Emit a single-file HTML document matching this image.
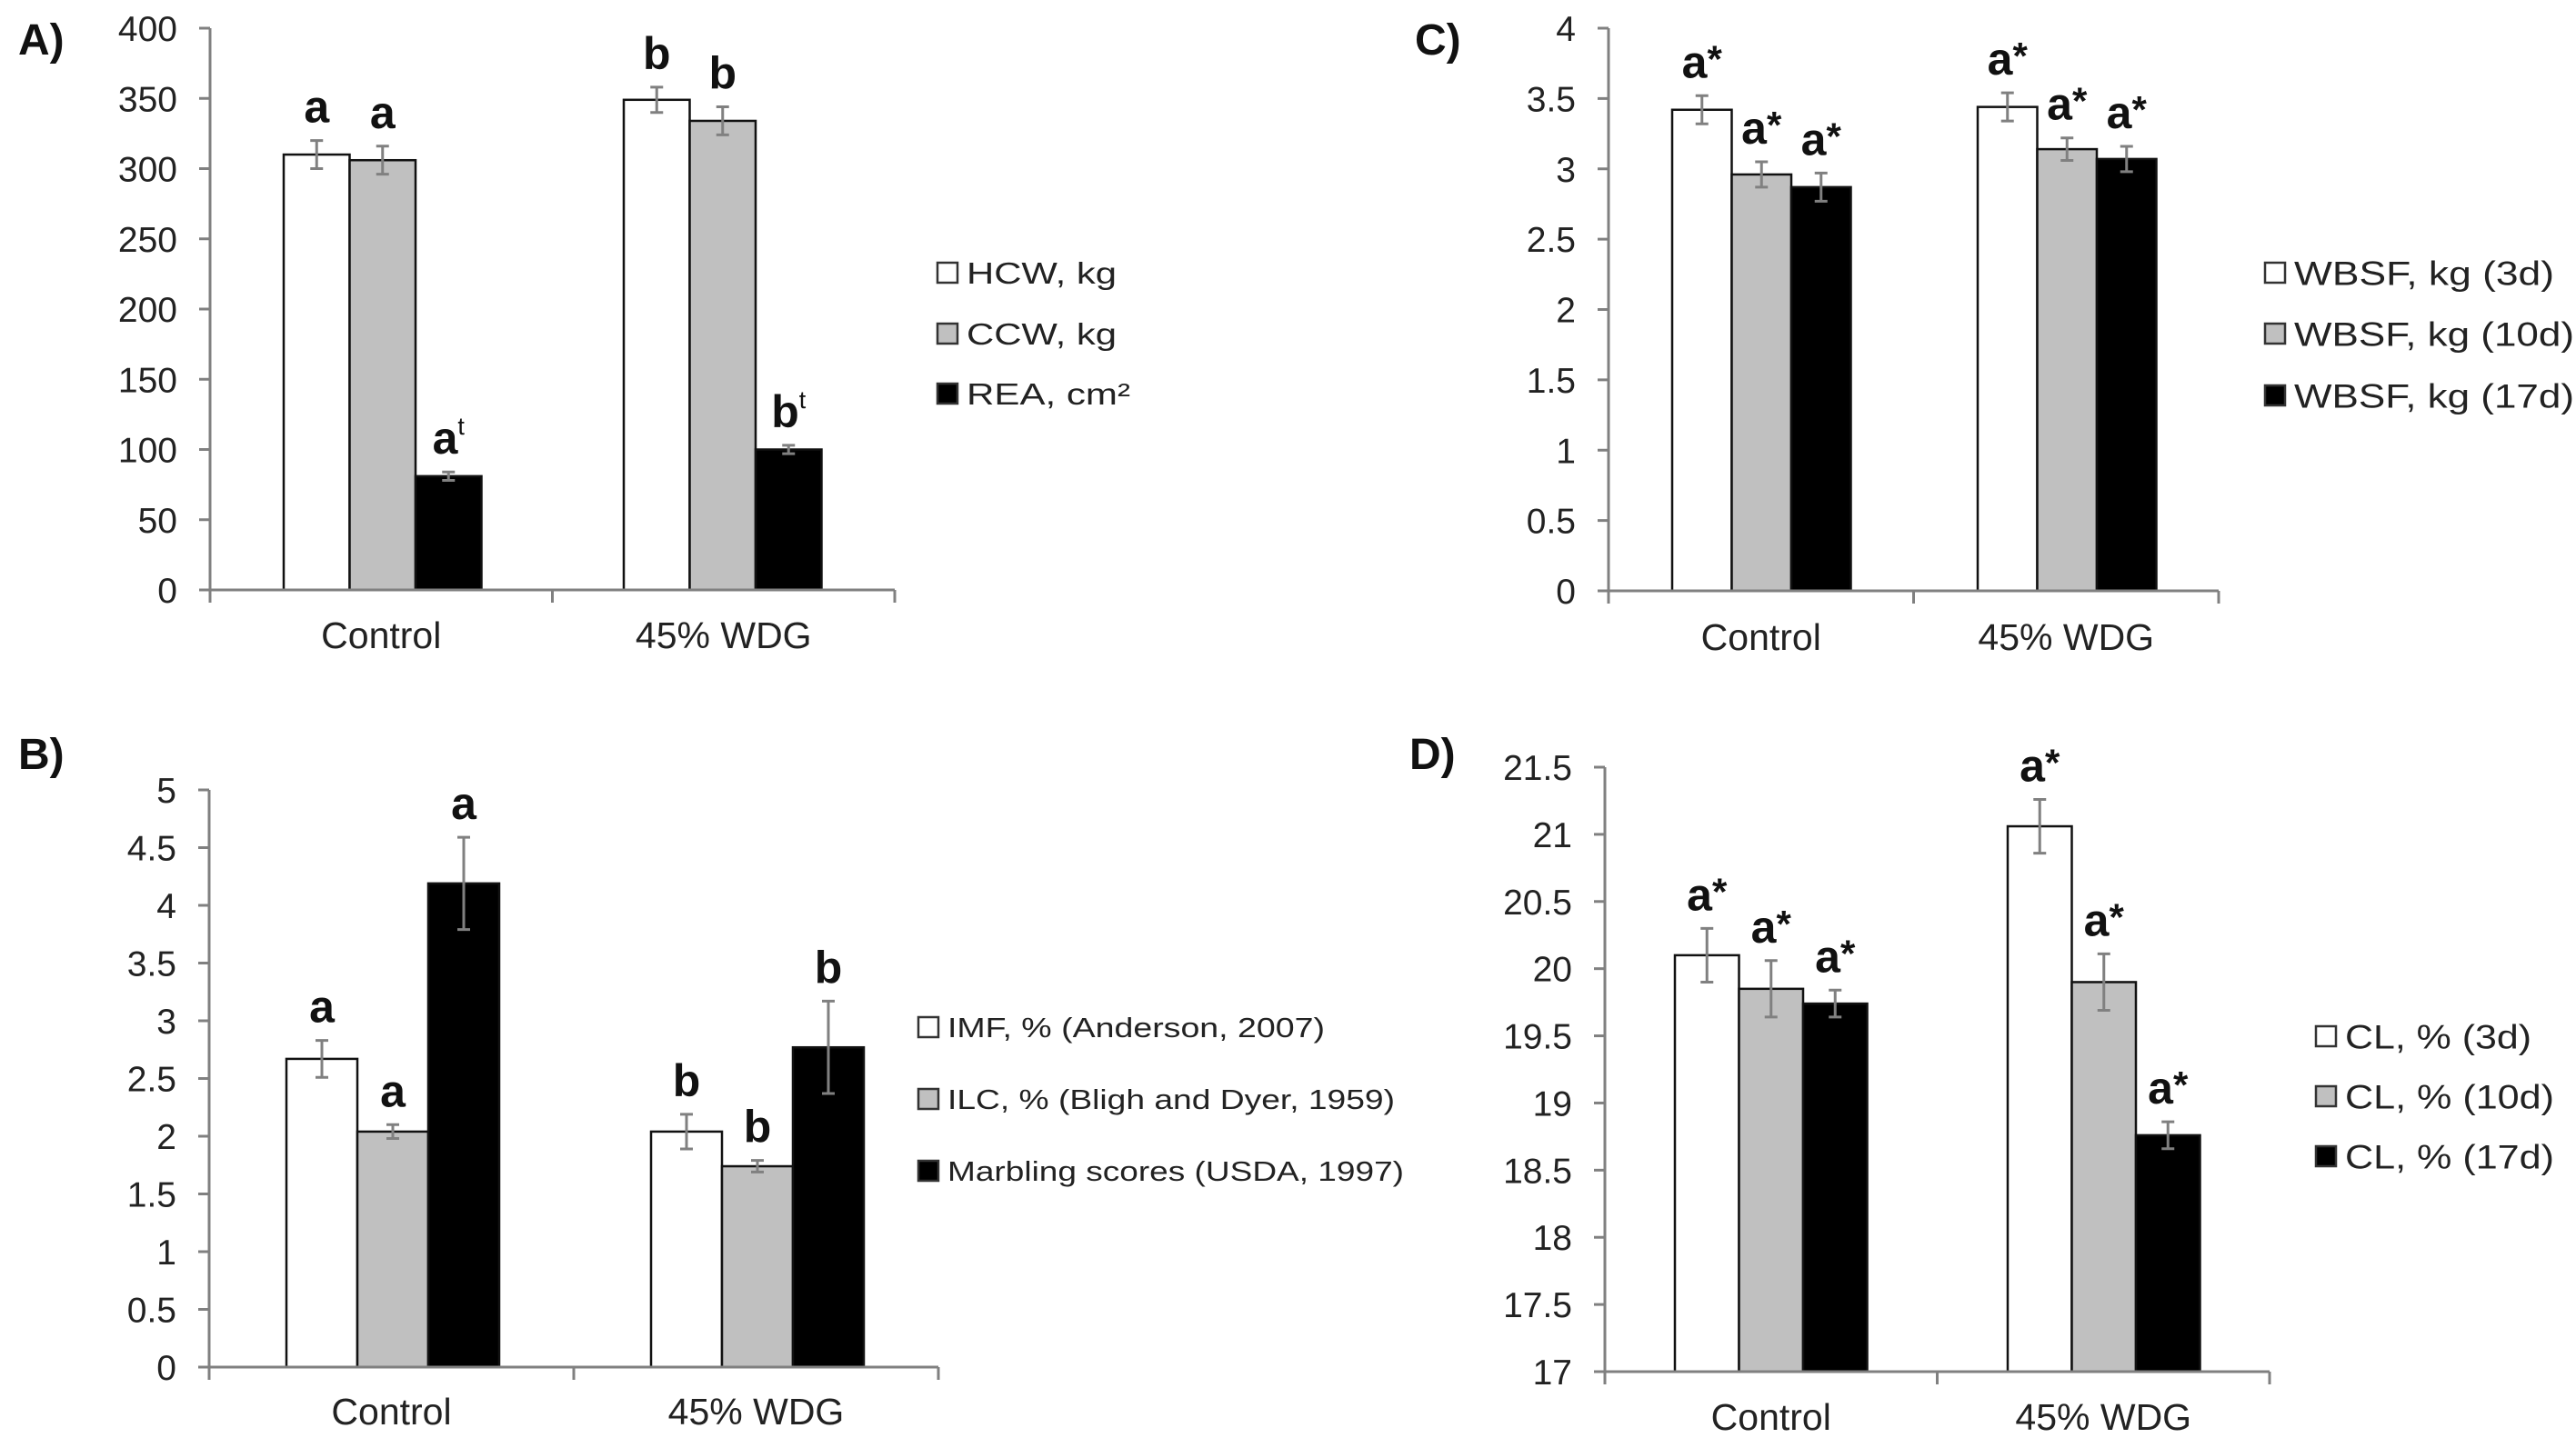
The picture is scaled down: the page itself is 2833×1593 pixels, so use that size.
<!DOCTYPE html>
<html><head><meta charset="utf-8"><style>
html,body{margin:0;padding:0;background:#fff;}
svg{display:block;font-family:"Liberation Sans",Arial,sans-serif;}
</style></head>
<body>
<svg id="fig" width="2833" height="1593" viewBox="0 0 2833 1593" xmlns="http://www.w3.org/2000/svg"></svg>
<script>
// ---- data ----
const categories = ["Control", "45% WDG"];
// Panel A
const aSeries = ["HCW, kg", "CCW, kg", "REA, cm²"];
const aValues = [[310, 349], [306, 334], [81, 100]];
const aErrors = [[10, 9], [10, 10], [3, 3]];
const aLetters = [["a", "b"], ["a", "b"], ["a|t", "b|t"]];
const aTicks = ["0","50","100","150","200","250","300","350","400"];
// Panel B
const bSeries = ["IMF, % (Anderson, 2007)", "ILC, % (Bligh and Dyer, 1959)", "Marbling scores (USDA, 1997)"];
const bValues = [[2.67, 2.04], [2.04, 1.74], [4.19, 2.77]];
const bErrors = [[0.16, 0.15], [0.06, 0.05], [0.4, 0.4]];
const bLetters = [["a", "b"], ["a", "b"], ["a", "b"]];
const bTicks = ["0","0.5","1","1.5","2","2.5","3","3.5","4","4.5","5"];
// Panel C
const cSeries = ["WBSF, kg (3d)", "WBSF, kg (10d)", "WBSF, kg (17d)"];
const cValues = [[3.42, 3.44], [2.96, 3.14], [2.87, 3.07]];
const cErrors = [[0.1, 0.1], [0.09, 0.08], [0.1, 0.09]];
const cLetters = [["a|*", "a|*"], ["a|*", "a|*"], ["a|*", "a|*"]];
const cTicks = ["0","0.5","1","1.5","2","2.5","3","3.5","4"];
// Panel D
const dSeries = ["CL, % (3d)", "CL, % (10d)", "CL, % (17d)"];
const dValues = [[20.1, 21.06], [19.85, 19.9], [19.74, 18.76]];
const dErrors = [[0.2, 0.2], [0.21, 0.21], [0.1, 0.1]];
const dLetters = [["a|*", "a|*"], ["a|*", "a|*"], ["a|*", "a|*"]];
const dTicks = ["17","17.5","18","18.5","19","19.5","20","20.5","21","21.5"];

const NS = "http://www.w3.org/2000/svg";
const svg = document.getElementById("fig");
const fills = ["#ffffff", "#c0c0c0", "#000000"];

function mk(tag, attrs, parent) {
  const e = document.createElementNS(NS, tag);
  for (const k in attrs) e.setAttribute(k, attrs[k]);
  (parent || svg).appendChild(e);
  return e;
}

function panel(p) {
  const g = mk("g", {});
  
  
  const ticksNum = p.ticks.map(Number);
  const tmin = ticksNum[0], tmax = ticksNum[ticksNum.length - 1];
  const y = v => p.y0 + (v - tmin) / (tmax - tmin) * (p.yTop - p.y0);
  const groupW = (p.xRight - p.xAxis) / categories.length;
  const pl = mk("text", {x: p.lx, y: p.ly, "font-size": 48, "font-weight": "bold", fill: "#111"}, g);
  pl.textContent = p.id + ")";
  
  
  p.ticks.forEach((t, i) => {
    const yy = y(ticksNum[i]);
    const tl = mk("line", {x1: p.xAxis - 12, x2: p.xAxis, y1: yy, y2: yy, stroke: "#808080", "stroke-width": 3}, g);
    
    
    const tx = mk("text", {x: p.xAxis - 36, y: yy + 14, "font-size": 39, "text-anchor": "end", fill: "#222"}, g);
    tx.textContent = t;
    
    
  });
  p.values.forEach((ser, s) => {
    ser.forEach((v, c) => {
      const x0 = p.barStart[c] + s * p.barW;
      const top = y(v);
      const r = mk("rect", {x: x0, y: top, width: p.barW, height: p.y0 - top, fill: fills[s], stroke: "#111", "stroke-width": 2.5}, g);
      
      
      const e = p.errors[s][c];
      const cx = x0 + p.barW / 2;
      const eh = mk("path", {d: `M${cx},${y(v - e)}V${y(v + e)}M${cx - 7},${y(v - e)}h14M${cx - 7},${y(v + e)}h14`, stroke: "#808080", "stroke-width": 3, fill: "none"}, g);
      
      
      const parts = p.letters[s][c].split("|");
      const lt = mk("text", {x: cx, y: y(v + e) - 20, "font-size": 50, "font-weight": "bold", "text-anchor": "middle", fill: "#111"}, g);
      lt.textContent = parts[0];
      if (parts[1]) {
        const ts = mk("tspan", {"font-size": parts[1] === "*" ? 42 : 27, dy: parts[1] === "*" ? -6 : -21, "font-weight": parts[1] === "*" ? "bold" : "normal"}, lt);
        ts.textContent = parts[1];
      }
      
      
    });
  });
  const ya = mk("line", {x1: p.xAxis, x2: p.xAxis, y1: p.yTop, y2: p.y0 + 14, stroke: "#808080", "stroke-width": 3}, g);
  
  
  const xa = mk("line", {x1: p.xAxis - 12, x2: p.xRight, y1: p.y0, y2: p.y0, stroke: "#808080", "stroke-width": 3}, g);
  
  
  for (let i = 1; i <= categories.length; i++) {
    const xx = p.xAxis + i * groupW;
    const tk = mk("line", {x1: xx, x2: xx, y1: p.y0, y2: p.y0 + 14, stroke: "#808080", "stroke-width": 3}, g);
    
    
  }
  categories.forEach((cat, c) => {
    const ct = mk("text", {x: p.xAxis + (c + 0.5) * groupW, y: p.catY, "font-size": 41, "text-anchor": "middle", fill: "#222"}, g);
    ct.textContent = cat;
    
    
  });
  p.series.forEach((name, s) => {
    const ry = p.legY[s];
    const sq = mk("rect", {x: p.legX, y: ry - 11, width: 22, height: 22, fill: fills[s], stroke: "#333", "stroke-width": 2.5}, g);
    
    
    const lt = mk("text", {x: p.legX + 32, y: ry + p.legFont * 0.36, "font-size": p.legFont, fill: "#222", textLength: p.legLen[s], lengthAdjust: "spacingAndGlyphs"}, g);
    lt.textContent = name;
    
    
  });
}

panel({id: "A", series: aSeries, values: aValues, errors: aErrors, letters: aLetters, ticks: aTicks,
  xAxis: 231, xRight: 984, y0: 649, yTop: 31, barStart: [312, 686], barW: 72.5, catY: 713,
  lx: 20, ly: 60, legX: 1031, legY: [300, 367, 433], legFont: 33, legLen: [165, 165, 180]});
panel({id: "B", series: bSeries, values: bValues, errors: bErrors, letters: bLetters, ticks: bTicks,
  xAxis: 230, xRight: 1032, y0: 1504, yTop: 869, barStart: [315, 716], barW: 78, catY: 1567,
  lx: 20, ly: 846, legX: 1010, legY: [1130, 1209, 1288], legFont: 31, legLen: [415, 492, 502]});
panel({id: "C", series: cSeries, values: cValues, errors: cErrors, letters: cLetters, ticks: cTicks,
  xAxis: 1769, xRight: 2440, y0: 650, yTop: 31, barStart: [1839, 2175], barW: 65.5, catY: 715,
  lx: 1556, ly: 60, legX: 2491, legY: [300, 367, 435], legFont: 37, legLen: [286, 308, 308]});
panel({id: "D", series: dSeries, values: dValues, errors: dErrors, letters: dLetters, ticks: dTicks,
  xAxis: 1765, xRight: 2496, y0: 1509, yTop: 844, barStart: [1842, 2208], barW: 70.5, catY: 1573,
  lx: 1550, ly: 846, legX: 2547, legY: [1140, 1206, 1272], legFont: 37, legLen: [205, 230, 230]});
</script>
</body></html>
